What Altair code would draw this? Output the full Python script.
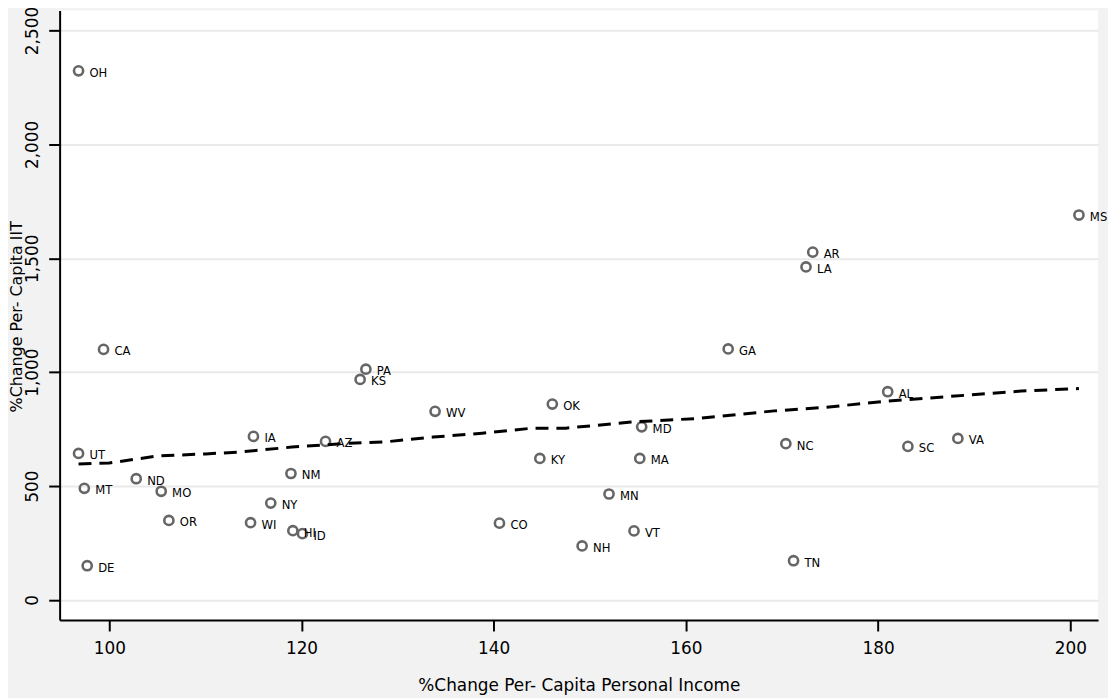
import altair as alt
import pandas as pd

# State scatter data
states = ["OH", "CA", "UT", "MT", "DE", "ND", "MO", "OR", "IA", "WI", "NY", "NM",
          "HI", "ID", "AZ", "PA", "KS", "WV", "CO", "OK", "KY", "NH", "MN", "MD",
          "MA", "VT", "GA", "NC", "LA", "AR", "TN", "AL", "SC", "VA", "MS"]
income_change = [96.8, 99.4, 96.8, 97.4, 97.7, 102.8, 105.4, 106.2, 115.0, 114.7, 116.8, 118.9,
                 119.1, 120.1, 122.5, 126.7, 126.1, 133.9, 140.6, 146.1, 144.8, 149.2, 152.0, 155.4,
                 155.2, 154.6, 164.4, 170.4, 172.5, 173.2, 171.2, 181.0, 183.1, 188.3, 200.9]
iit_change = [2323, 1100, 643, 490, 150, 532, 477, 349, 718, 339, 425, 555,
              304, 291, 696, 1013, 968, 828, 337, 860, 621, 237, 465, 760,
              621, 303, 1102, 686, 1462, 1527, 172, 914, 674, 709, 1690]

# Smoothed (dashed) fit line
fit_x = [96.8, 100, 105, 110, 113.5, 119, 125, 128.5, 133.7, 138.8, 144, 147.5,
         154.3, 161, 169.2, 174.4, 181, 188, 194.9, 200.9]
fit_y = [597, 601, 632, 641, 649, 671, 688, 693, 715, 732, 754, 754,
         781, 796, 830, 845, 873, 895, 917, 928]

x_ticks = [100, 120, 140, 160, 180, 200]
y_ticks = [0, 500, 1000, 1500, 2000, 2500]

pts = pd.DataFrame({"state": states, "inc": income_change, "iit": iit_change})
fit = pd.DataFrame({"inc": fit_x, "iit": fit_y})

AX_FONT = "DejaVu Sans"
LBL_FONT = "Liberation Sans Narrow, DejaVu Sans Condensed, Arial Narrow, sans-serif"

xscale = alt.Scale(domain=[94.83, 202.89], nice=False, zero=False)
yscale = alt.Scale(domain=[-88.5, 2588], nice=False, zero=False)

xaxis = alt.Axis(values=x_ticks, title="%Change Per- Capita Personal Income",
                 grid=False, domainColor="black", domainWidth=2,
                 tickColor="black", tickWidth=2, tickSize=11,
                 labelFont=AX_FONT, labelFontSize=17, labelColor="black",
                 labelPadding=10, titleFont=AX_FONT, titleFontSize=17,
                 titleFontWeight="normal", titleColor="black", titlePadding=21)

yaxis = alt.Axis(values=y_ticks, title="%Change Per- Capita IIT", format=",.0f",
                 grid=True, gridColor="#eaeaea", gridWidth=2,
                 domainColor="black", domainWidth=2,
                 tickColor="black", tickWidth=2, tickSize=11,
                 labelFont=AX_FONT, labelFontSize=17, labelColor="black",
                 labelAngle=270, labelAlign="center", labelBaseline="bottom",
                 labelPadding=7,
                 titleFont=AX_FONT, titleFontSize=16, titleFontWeight="normal",
                 titleColor="black", titleAngle=270, titleAlign="center",
                 titleBaseline="middle", titleX=-43, titleY=308)

points = alt.Chart(pts).mark_point(
    shape="circle", filled=False, size=85, strokeWidth=2.6, color="#666666", opacity=1
).encode(
    x=alt.X("inc:Q", scale=xscale, axis=xaxis),
    y=alt.Y("iit:Q", scale=yscale, axis=yaxis),
)

labels = alt.Chart(pts).mark_text(
    align="left", baseline="middle", dx=11, dy=2, fontSize=13,
    font=LBL_FONT, color="black"
).encode(
    x=alt.X("inc:Q", scale=xscale),
    y=alt.Y("iit:Q", scale=yscale),
    text="state:N",
)

line = alt.Chart(fit).mark_line(
    color="black", strokeWidth=3, strokeDash=[13, 8]
).encode(
    x=alt.X("inc:Q", scale=xscale),
    y=alt.Y("iit:Q", scale=yscale),
)

chart = alt.layer(points, labels, line).properties(
    width=1046, height=614,
    autosize=alt.AutoSizeParams(type="none"),
    padding={"left": 52, "top": 0, "right": 10, "bottom": 76},
    background="#f2f2f2",
).configure_view(fill="white", stroke=None)

chart.save("out.html", embed_options={"renderer": "svg", "actions": False})
